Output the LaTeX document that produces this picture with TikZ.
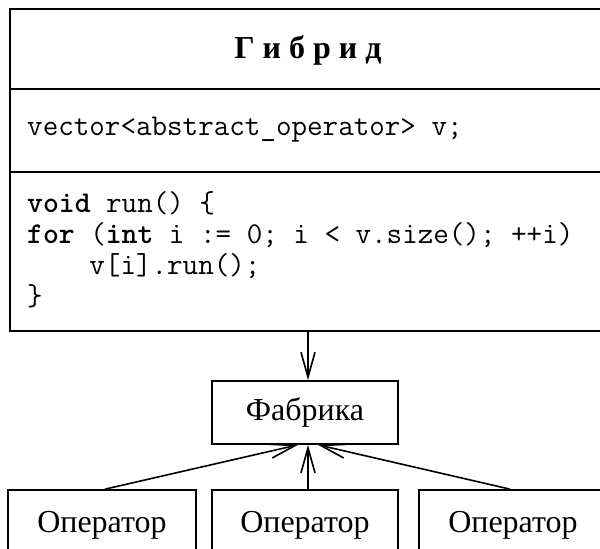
\documentclass[tikz,border=0pt]{standalone}
\usepackage{fontspec}
\setmainfont{Liberation Serif}
\usetikzlibrary{arrows.meta}
\tikzset{
  box/.style={draw, line width=1.7pt, inner sep=0pt},
  code/.style={anchor=base west, inner sep=0pt, font=\fontsize{30.2}{31}\selectfont\ttfamily},
  lbl/.style={font=\fontsize{32}{36}\selectfont},
  conn/.style={line width=1.6pt, -{Straight Barb[length=25pt,width=14pt,line width=1.6pt]}},
  sepline/.style={line width=1.7pt}
}
\begin{document}
\begin{tikzpicture}[x=1pt,y=-1pt]
\useasboundingbox (0,0) rectangle (600,549);
\clip (0,0) rectangle (600,549);
% hybrid class box
\node[box, anchor=north west, minimum width=600pt, minimum height=322pt] (hyb) at (9,8) {};
\draw[sepline] (hyb.west |- 0,89) -- (hyb.east |- 0,89);
\draw[sepline] (hyb.west |- 0,172) -- (hyb.east |- 0,172);
\node[lbl, anchor=base, inner sep=0pt, font=\fontsize{32}{36}\selectfont\bfseries] (title) at (308,58) {Г и б р и д};
\node[code] (field) at (27,135) {vector<abstract\_operator> v;};
\node[code] (m1) at (27,212) {\textbf{void} run() \{};
\node[code] (m2) at (27,243) {\textbf{for} (\textbf{int} i := 0; i < v.size(); ++i)};
\node[code] (m3) at (27,274) {\ \ \ \ v[i].run();};
\node[code] (m4) at (27,305) {\}};
% factory
\node[box, lbl, minimum width=186pt, minimum height=63pt] (fab) at (305,412.5) {Фабрика};
% operators
\node[box, lbl, minimum width=188pt, minimum height=71pt] (op1) at (102,525.5) {Оператор};
\node[box, lbl, minimum width=186pt, minimum height=71pt] (op2) at (305,525.5) {Оператор};
\node[box, lbl, minimum width=188pt, minimum height=71pt] (op3) at (513,525.5) {Оператор};
% connectors
\draw[conn] (hyb.south -| 308,0) -- (fab.north -| 308,0);
\draw[conn] (op1.north -| 105,0) -- (fab.south -| 298,0);
\draw[conn] (op2.north -| 308,0) -- (fab.south -| 308,0);
\draw[conn] (op3.north -| 510,0) -- (fab.south -| 318,0);
\end{tikzpicture}
\end{document}
